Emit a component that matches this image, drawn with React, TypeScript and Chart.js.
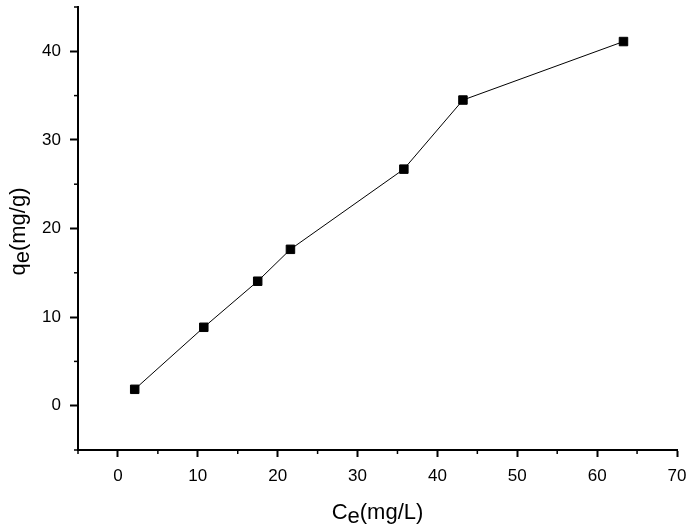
import React, { useEffect, useRef } from "react";
import { Chart, registerables } from "chart.js";

Chart.register(...registerables);

const ceValues = [2.1, 10.75, 17.5, 21.6, 35.8, 43.2, 63.3];
const qeValues = [1.85, 8.85, 14.05, 17.65, 26.7, 34.5, 41.1];

const xMajorTicks = [0, 10, 20, 30, 40, 50, 60, 70];
const xMinorTicks = [-5, 5, 15, 25, 35, 45, 55, 65];
const yMajorTicks = [0, 10, 20, 30, 40];
const yMinorTicks = [-5, 5, 15, 25, 35, 45];

const xTitleMain = "C";
const xTitleSub = "e";
const xTitleRest = "(mg/L)";
const yTitleMain = "q";
const yTitleSub = "e";
const yTitleRest = "(mg/g)";

const FONT = '"Liberation Sans", Arial, sans-serif';

const decorPlugin = {
  id: "decor",
  afterDraw(chart: any) {
    const ctx = chart.ctx;
    const area = chart.chartArea;
    const xs = chart.scales.x;
    const ys = chart.scales.y;
    ctx.save();
    ctx.strokeStyle = "#000";
    ctx.lineWidth = 1.5;
    for (const v of xMinorTicks) {
      const px = xs.getPixelForValue(v);
      ctx.beginPath();
      ctx.moveTo(px, area.bottom);
      ctx.lineTo(px, area.bottom + 4);
      ctx.stroke();
    }
    for (const v of yMinorTicks) {
      const py = ys.getPixelForValue(v);
      ctx.beginPath();
      ctx.moveTo(area.left, py);
      ctx.lineTo(area.left - 4, py);
      ctx.stroke();
    }
    const drawTitle = (main: string, sub: string, rest: string) => {
      const big = `22px ${FONT}`;
      ctx.font = big;
      const w1 = ctx.measureText(main).width;
      const w2 = ctx.measureText(sub).width;
      const w3 = ctx.measureText(rest).width;
      const total = w1 + w2 + w3;
      let x = -total / 2;
      ctx.fillStyle = "#000";
      ctx.textBaseline = "alphabetic";
      ctx.textAlign = "left";
      ctx.fillText(main, x, 0);
      x += w1;
      ctx.fillText(sub, x, 4);
      x += w2;
      ctx.fillText(rest, x, 0);
    };
    ctx.save();
    ctx.translate((area.left + area.right) / 2, area.bottom + 69);
    drawTitle(xTitleMain, xTitleSub, xTitleRest);
    ctx.restore();
    ctx.save();
    ctx.translate(25, (area.top + area.bottom) / 2 + 3);
    ctx.rotate(-Math.PI / 2);
    drawTitle(yTitleMain, yTitleSub, yTitleRest);
    ctx.restore();
    ctx.restore();
  },
};

export default function App() {
  const canvasRef = useRef<HTMLCanvasElement | null>(null);

  useEffect(() => {
    document.body.style.margin = "0";
    const canvas = canvasRef.current;
    if (!canvas) return;
    const chart = new Chart(canvas, {
      type: "line",
      data: {
        datasets: [
          {
            data: ceValues.map((x, i) => ({ x, y: qeValues[i] })),
            borderColor: "#000",
            backgroundColor: "#000",
            borderWidth: 1,
            pointStyle: "rect",
            pointRadius: 6,
            pointBorderWidth: 1,
            pointBorderColor: "#000",
            pointBackgroundColor: "#000",
            tension: 0,
          },
        ],
      },
      options: {
        animation: false,
        responsive: true,
        maintainAspectRatio: false,
        layout: { padding: { top: 5, right: 14, left: 0, bottom: 0 } },
        plugins: {
          legend: { display: false },
          tooltip: { enabled: false },
        },
        scales: {
          x: {
            type: "linear",
            min: -5,
            max: 70,
            afterBuildTicks: (scale: any) => {
              scale.ticks = xMajorTicks.map((v) => ({ value: v }));
            },
            afterFit: (scale: any) => {
              scale.height = 81;
              scale.paddingLeft = 0;
              scale.paddingRight = 0;
            },
            grid: {
              display: true,
              drawOnChartArea: false,
              drawTicks: true,
              tickLength: 7,
              tickColor: "#000",
              tickWidth: 2,
            },
            border: { display: true, color: "#000", width: 2 },
            ticks: {
              autoSkip: false,
              maxRotation: 0,
              color: "#000",
              padding: 9,
              font: { family: FONT, size: 17 },
              callback: (v: any) => String(v),
            },
          },
          y: {
            type: "linear",
            min: -5,
            max: 45,
            afterBuildTicks: (scale: any) => {
              scale.ticks = yMajorTicks.map((v) => ({ value: v }));
            },
            afterFit: (scale: any) => {
              scale.width = 78;
              scale.paddingTop = 0;
              scale.paddingBottom = 0;
            },
            grid: {
              display: true,
              drawOnChartArea: false,
              drawTicks: true,
              tickLength: 8,
              tickColor: "#000",
              tickWidth: 2,
            },
            border: { display: true, color: "#000", width: 2 },
            ticks: {
              autoSkip: false,
              color: "#000",
              padding: 9,
              font: { family: FONT, size: 17 },
              callback: (v: any) => String(v),
            },
          },
        },
      },
      plugins: [decorPlugin],
    });
    return () => chart.destroy();
  }, []);

  return (
    <div style={{ position: "relative", width: "691px", height: "531px" }}>
      <canvas ref={canvasRef} />
    </div>
  );
}
